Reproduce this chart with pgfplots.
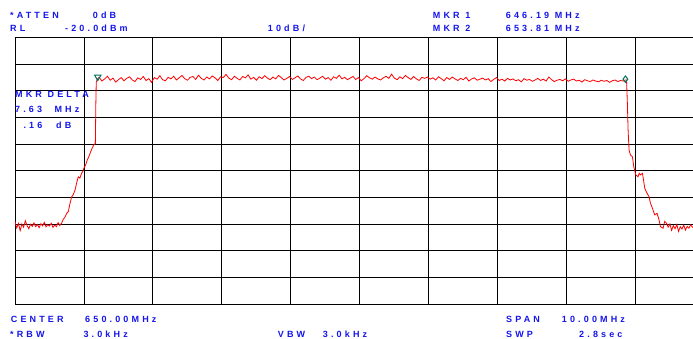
\documentclass[border=0pt]{standalone}
\usepackage{fontspec}
\setmainfont{Liberation Sans}
\newfontfamily\hp[LetterSpace=35]{Liberation Sans}
\usepackage{pgfplots}
\pgfplotsset{compat=1.18}
\definecolor{txt}{RGB}{20,20,235}
\definecolor{mk}{RGB}{0,115,95}
\pgfplotstableread{
x y
645.000 -89.0
645.025 -91.5
645.050 -89.8
645.075 -92.5
645.100 -90.0
645.125 -91.2
645.150 -88.8
645.175 -90.6
645.200 -91.8
645.225 -90.1
645.250 -90.9
645.275 -89.6
645.300 -91.0
645.325 -90.2
645.350 -91.4
645.375 -89.9
645.400 -90.7
645.425 -89.4
645.450 -91.1
645.475 -90.3
645.500 -90.8
645.525 -89.7
645.550 -91.3
645.575 -90.4
645.600 -91.0
645.625 -89.5
645.650 -90.6
645.677 -89.6
645.700 -88.2
645.725 -87.4
645.750 -86.0
645.772 -85.4
645.800 -82.0
645.822 -79.8
645.845 -79.0
645.870 -77.3
645.895 -74.5
645.917 -72.3
645.940 -72.8
645.967 -70.9
645.985 -70.2
646.000 -69.0
646.025 -67.8
646.048 -66.0
646.075 -64.5
646.097 -62.9
646.120 -61.5
646.140 -60.4
646.165 -59.8
646.172 -45.0
646.178 -36.8
646.196 -35.6
646.22 -35.0
646.26 -36.4
646.30 -35.6
646.34 -34.6
646.38 -36.1
646.42 -35.3
646.46 -36.8
646.50 -35.9
646.54 -35.1
646.58 -36.3
646.62 -35.4
646.66 -34.8
646.70 -36.0
646.74 -36.6
646.78 -35.2
646.82 -35.8
646.86 -34.7
646.90 -36.2
646.94 -35.5
646.98 -36.9
647.02 -35.1
647.06 -35.7
647.10 -34.4
647.14 -35.9
647.18 -36.3
647.22 -35.0
647.26 -35.6
647.30 -34.6
647.34 -36.0
647.38 -35.2
647.42 -34.3
647.46 -35.5
647.50 -36.1
647.54 -35.0
647.58 -34.7
647.62 -35.8
647.66 -34.2
647.70 -35.4
647.74 -36.0
647.78 -34.9
647.82 -35.6
647.86 -34.5
647.90 -35.2
647.94 -36.2
647.98 -34.8
648.02 -35.1
648.06 -33.9
648.10 -35.3
648.14 -35.9
648.18 -34.6
648.22 -35.4
648.26 -36.0
648.30 -34.7
648.34 -35.2
648.38 -34.1
648.42 -35.7
648.46 -35.0
648.50 -36.1
648.54 -34.8
648.58 -35.5
648.62 -34.4
648.66 -35.3
648.70 -35.9
648.74 -34.9
648.78 -35.6
648.82 -34.3
648.86 -35.1
648.90 -36.0
648.94 -35.4
648.98 -34.7
649.02 -35.8
649.06 -35.2
649.10 -34.5
649.14 -35.6
649.18 -36.2
649.22 -35.0
649.26 -34.6
649.30 -35.5
649.34 -34.9
649.38 -35.9
649.42 -35.3
649.46 -34.6
649.50 -35.7
649.54 -35.1
649.58 -36.1
649.62 -34.8
649.66 -35.4
649.70 -34.2
649.74 -35.6
649.78 -35.0
649.82 -35.9
649.86 -35.3
649.90 -34.7
649.94 -35.8
649.98 -35.1
650.02 -36.3
650.06 -35.5
650.10 -34.4
650.14 -35.2
650.18 -35.7
650.22 -34.9
650.26 -35.6
650.30 -36.0
650.34 -35.2
650.38 -34.6
650.42 -35.4
650.46 -33.8
650.50 -35.3
650.54 -35.9
650.58 -34.8
650.62 -35.5
650.66 -34.3
650.70 -35.1
650.74 -35.8
650.78 -34.7
650.82 -35.6
650.86 -36.2
650.90 -35.0
650.94 -35.4
650.98 -34.9
651.02 -35.7
651.06 -35.2
651.10 -36.0
651.14 -34.8
651.18 -35.5
651.22 -36.3
651.26 -35.1
651.30 -35.8
651.34 -34.9
651.38 -35.6
651.42 -36.2
651.46 -35.4
651.50 -35.9
651.54 -35.0
651.58 -36.4
651.62 -35.6
651.66 -35.2
651.70 -36.1
651.74 -35.7
651.78 -35.3
651.82 -36.0
651.86 -35.5
651.90 -36.6
651.94 -35.8
651.98 -35.1
652.02 -36.2
652.06 -35.7
652.10 -36.4
652.14 -35.4
652.18 -36.0
652.22 -35.6
652.26 -36.3
652.30 -35.9
652.34 -36.7
652.38 -35.5
652.42 -36.1
652.46 -35.8
652.50 -36.5
652.54 -36.0
652.58 -35.4
652.62 -36.2
652.66 -35.7
652.70 -36.4
652.74 -34.9
652.78 -35.9
652.82 -36.6
652.86 -36.1
652.90 -35.8
652.94 -36.3
652.98 -35.6
653.02 -36.5
653.06 -36.0
653.10 -35.7
653.14 -36.4
653.18 -36.1
653.22 -36.8
653.26 -35.9
653.30 -36.3
653.34 -36.6
653.38 -36.0
653.42 -36.4
653.46 -36.7
653.50 -36.1
653.54 -36.5
653.58 -36.2
653.62 -36.9
653.66 -36.3
653.70 -36.0
653.74 -36.6
653.78 -36.2
653.82 -36.4
653.85 -36.0
653.866 -36.0
653.877 -43.5
653.889 -54.8
653.903 -62.3
653.923 -64.1
653.952 -64.8
653.971 -68.5
654.000 -71.6
654.033 -72.3
654.050 -71.0
654.068 -71.6
654.097 -71.0
654.116 -74.1
654.130 -76.6
654.164 -78.5
654.193 -79.8
654.213 -82.2
654.242 -84.1
654.275 -86.6
654.309 -86.0
654.338 -88.5
654.358 -91.0
654.396 -91.6
654.420 -89.0
654.446 -89.7
654.470 -91.2
654.495 -90.0
654.520 -92.4
654.545 -90.6
654.570 -91.8
654.595 -90.2
654.620 -92.8
654.645 -91.0
654.670 -91.9
654.695 -90.4
654.720 -92.3
654.745 -90.9
654.770 -91.6
654.795 -90.3
654.830 -91.4
}\trace
\begin{document}
\begin{tikzpicture}
\useasboundingbox (0pt,0pt) rectangle (693pt,339pt);
\begin{axis}[
  at={(15pt,35pt)}, anchor=south west,
  scale only axis, width=678pt, height=266.7pt,
  xmin=645, xmax=654.83, ymin=-120, ymax=-20,
  axis line style={draw=none},
  xtick={645,646,...,654}, ytick={-120,-110,...,-20},
  xticklabels={}, yticklabels={},
  major tick length=0pt,
  grid=major, grid style={black, line width=0.9pt},
  clip=true,
]
\addplot[red, line width=0.8pt, mark=none] table[x=x,y=y] {\trace};
\addplot[only marks, mark=triangle, mark size=3.6pt, mark options={rotate=180, draw=mk, line width=1pt}] coordinates {(646.2,-34.9)};
\addplot[only marks, mark=diamond, mark size=3.2pt, mark options={draw=mk, line width=1pt}] coordinates {(653.85,-35.7)};
\end{axis}
\begin{scope}[every node/.style={anchor=base west, inner sep=0pt, text=txt, font=\hp\bfseries\fontsize{9}{10}\selectfont}]
\node at (10pt,320.7pt) {*ATTEN};
\node at (92.7pt,320.7pt) {0dB};
\node at (432.7pt,320.7pt) {MKR 1};
\node at (505.7pt,320.7pt) {646.19 MHz};
\node at (10pt,307.3pt) {RL};
\node at (65pt,307.3pt) {-20.0dBm};
\node at (267.7pt,307.3pt) {10dB/};
\node at (432.7pt,307.3pt) {MKR 2};
\node at (505.7pt,307.3pt) {653.81 MHz};
\node at (15pt,241.7pt) {MKR DELTA};
\node at (15pt,226.3pt) {7.63};
\node at (54.3pt,226.3pt) {MHz};
\node at (23.3pt,210.7pt) {.16};
\node at (56pt,210.7pt) {dB};
\node at (10.7pt,16.3pt) {CENTER};
\node at (85pt,16.3pt) {650.00MHz};
\node at (506pt,16.3pt) {SPAN};
\node at (561.7pt,16.3pt) {10.00MHz};
\node at (10pt,1.7pt) {*RBW};
\node at (83.3pt,1.7pt) {3.0kHz};
\node at (277.7pt,1.7pt) {VBW};
\node at (322.7pt,1.7pt) {3.0kHz};
\node at (506pt,1.7pt) {SWP};
\node at (579pt,1.7pt) {2.8sec};
\end{scope}
\end{tikzpicture}
\end{document}
